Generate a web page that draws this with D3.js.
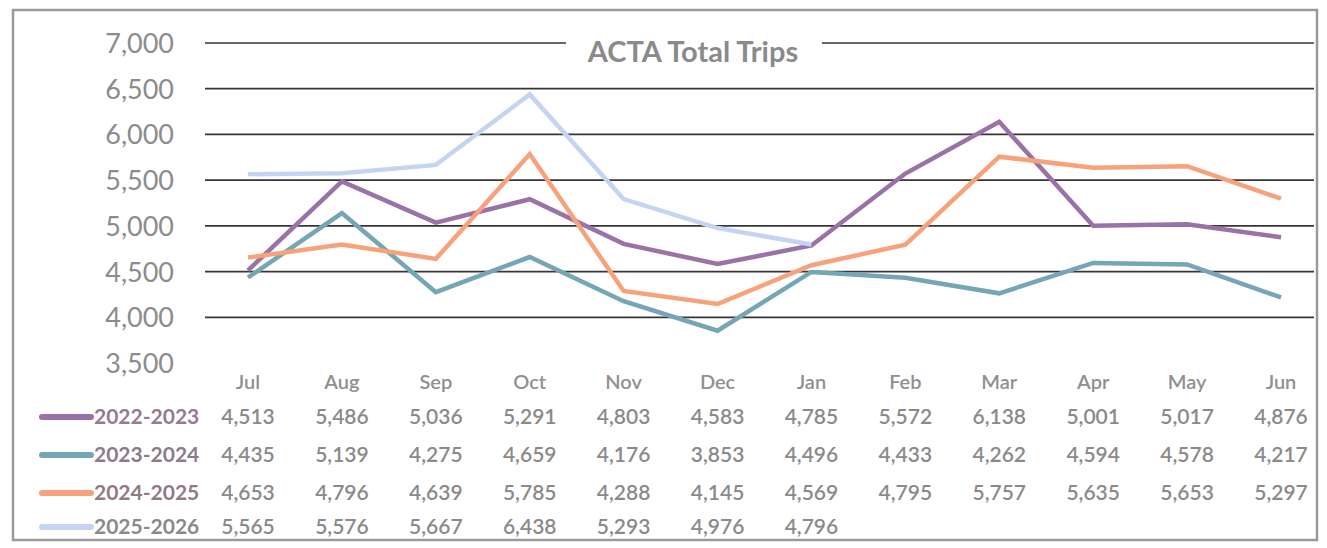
<!DOCTYPE html>
<html>
<head>
<meta charset="utf-8">
<title>ACTA Total Trips</title>
<style>
body { margin: 0; background: #fff; }
text { font-family: Lato, "Open Sans", sans-serif; }
.ytick { font-size: 27px; fill: #8c8c8c; }
.month { font-size: 20px; fill: #909090; font-weight: 600; }
.val { font-size: 21px; fill: #8a8a8a; font-weight: 600; }
.series { font-size: 21px; font-weight: 700; }
</style>
</head>
<body>
<svg width="1327" height="548"></svg>
<script src="https://d3js.org/d3.v7.min.js"></script>
<script>

var months = ["Jul", "Aug", "Sep", "Oct", "Nov", "Dec", "Jan", "Feb", "Mar", "Apr", "May", "Jun"];
var seriesNames = ["2022-2023", "2023-2024", "2024-2025", "2025-2026"];
var trips2022 = [4513, 5486, 5036, 5291, 4803, 4583, 4785, 5572, 6138, 5001, 5017, 4876];
var trips2023 = [4435, 5139, 4275, 4659, 4176, 3853, 4496, 4433, 4262, 4594, 4578, 4217];
var trips2024 = [4653, 4796, 4639, 5785, 4288, 4145, 4569, 4795, 5757, 5635, 5653, 5297];
var trips2025 = [5565, 5576, 5667, 6438, 5293, 4976, 4796];
var yTicks = [3500, 4000, 4500, 5000, 5500, 6000, 6500, 7000];

var lineColors = ["#9a72a7", "#74a6b6", "#f8a27c", "#c6d4f3"];
var labelColors = ["#957a93", "#8c7b8a", "#8f7a86", "#8a8a8a"];

var series = [trips2022, trips2023, trips2024, trips2025].map(function(v, i) {
  return { name: seriesNames[i], values: v, line: lineColors[i], label: labelColors[i] };
});

var svg = d3.select("svg");

// outer frame
svg.append("rect")
    .attr("x", 13).attr("y", 10)
    .attr("width", 1304).attr("height", 530)
    .attr("fill", "none")
    .attr("stroke", "#9a9a9a")
    .attr("stroke-width", 2.5);

var x = d3.scalePoint().domain(months).range([248, 1281]);
var y = d3.scaleLinear().domain([3500, 7000]).range([363, 43]);

// gridlines
svg.append("g")
  .selectAll("line")
  .data(yTicks.filter(function(d) { return d > 3500; }))
  .enter().append("line")
    .attr("x1", 205).attr("x2", 1314)
    .attr("y1", function(d) { return y(d); })
    .attr("y2", function(d) { return y(d); })
    .attr("stroke", "#363636")
    .attr("stroke-width", 1.7);

// y tick labels
svg.append("g")
  .selectAll("text")
  .data(yTicks)
  .enter().append("text")
    .attr("class", "ytick")
    .attr("x", 174)
    .attr("y", function(d) { return y(d) + 10; })
    .attr("text-anchor", "end")
    .text(function(d) { return d3.format(",")(d); });

// title with white box over the top gridline
svg.append("rect")
    .attr("x", 566).attr("y", 30)
    .attr("width", 256).attr("height", 32)
    .attr("fill", "#fff");
svg.append("text")
    .attr("x", 693).attr("y", 62)
    .attr("text-anchor", "middle")
    .attr("font-size", 29)
    .attr("font-weight", 700)
    .attr("fill", "#8a8a8a")
    .text("ACTA Total Trips");

// lines
var line = d3.line()
    .x(function(d, i) { return x(months[i]); })
    .y(function(d) { return y(d); });

svg.append("g")
  .selectAll("path")
  .data(series)
  .enter().append("path")
    .attr("d", function(d) { return line(d.values); })
    .attr("fill", "none")
    .attr("stroke", function(d) { return d.line; })
    .attr("stroke-width", 4.5)
    .attr("stroke-linejoin", "miter");

// month labels
svg.append("g")
  .selectAll("text")
  .data(months)
  .enter().append("text")
    .attr("class", "month")
    .attr("x", function(d) { return x(d); })
    .attr("y", 389)
    .attr("text-anchor", "middle")
    .text(function(d) { return d; });

// data table
var rowY = [424, 462, 500, 534];
var rows = svg.append("g")
  .selectAll("g")
  .data(series)
  .enter().append("g")
    .attr("transform", function(d, i) { return "translate(0," + rowY[i] + ")"; });

rows.append("line")
    .attr("x1", 42).attr("x2", 91)
    .attr("y1", -7).attr("y2", -7)
    .attr("stroke", function(d) { return d.line; })
    .attr("stroke-width", 6)
    .attr("stroke-linecap", "round");

rows.append("text")
    .attr("class", "series")
    .attr("x", 94)
    .attr("fill", function(d) { return d.label; })
    .text(function(d) { return d.name; });

rows.selectAll("text.val")
  .data(function(d) { return d.values; })
  .enter().append("text")
    .attr("class", "val")
    .attr("x", function(d, i) { return x(months[i]); })
    .attr("text-anchor", "middle")
    .text(function(d) { return d3.format(",")(d); });

</script>
</body>
</html>
